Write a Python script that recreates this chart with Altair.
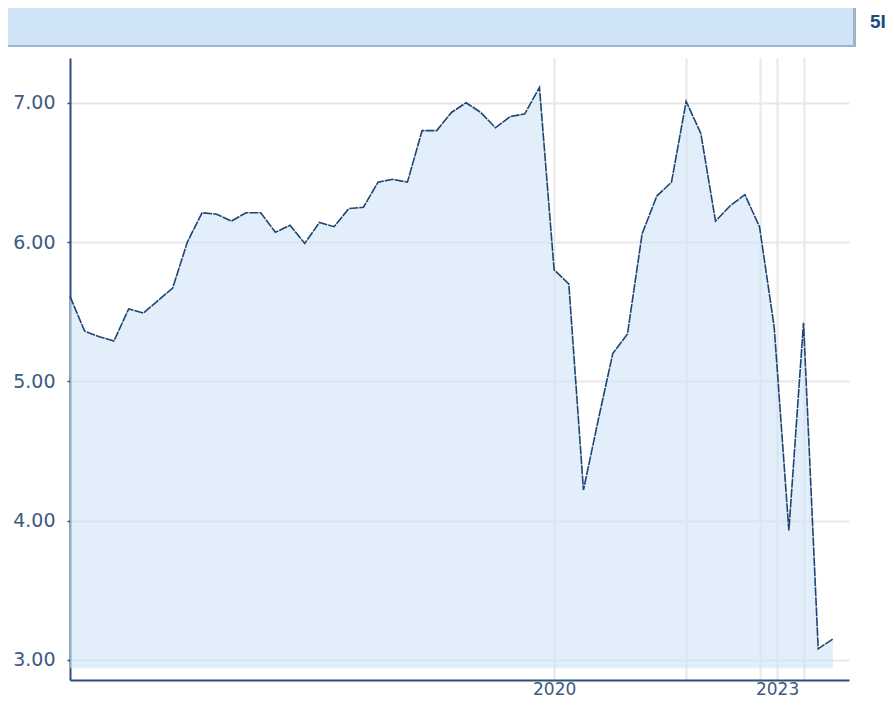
import altair as alt
import pandas as pd

# observation index (x position) and value
period = [0, 1, 2, 3, 4, 5, 6, 7, 8, 9, 10, 11, 12, 13, 14, 15, 16, 17, 18, 19,
          20, 21, 22, 23, 24, 25, 26, 27, 28, 29, 30, 31, 32, 33, 34, 35, 36, 37,
          38, 39, 40, 41, 42, 43, 44, 45, 46, 47, 48, 49, 50, 51, 52]
values = [5.61, 5.36, 5.32, 5.29, 5.52, 5.49, 5.58, 5.67, 6.00, 6.21,
          6.20, 6.15, 6.21, 6.21, 6.07, 6.12, 5.99, 6.14, 6.11, 6.24,
          6.25, 6.43, 6.45, 6.43, 6.80, 6.80, 6.93, 7.00, 6.93, 6.82,
          6.90, 6.92, 7.11, 5.80, 5.70, 4.22, 4.72, 5.20, 5.34, 6.06,
          6.33, 6.43, 7.01, 6.78, 6.15, 6.26, 6.34, 6.11, 5.39, 3.93,
          5.42, 3.08, 3.15]

x_grid = [33, 42, 47, 48.2, 50]
x_label_map = {33: "2020", 48.2: "2023"}
y_ticks = [3, 4, 5, 6, 7]
area_base = 2.94
button_text = "5I"

df = pd.DataFrame({"t": period, "v": values})

W, H = 779, 622
LINE = "#1e4470"
AXIS = "#2b4f7a"
LABEL = "#3d5a80"
GRID = "#e8e8e8"

label_expr = " : ".join(
    [f"datum.value == {k} ? '{v}'" for k, v in x_label_map.items()]
) + " : ''"

x_enc = alt.X(
    "t:Q",
    scale=alt.Scale(domain=[0, 53.1], nice=False, zero=False),
    axis=alt.Axis(
        values=x_grid, labelExpr=label_expr, ticks=False, grid=True,
        title=None, labelPadding=1, labelOverlap=False, labelFlush=False,
        labelFontSize=17,
    ),
)
y_enc = alt.Y(
    "v:Q",
    scale=alt.Scale(domain=[2.856, 7.321], nice=False, zero=False),
    axis=alt.Axis(
        values=y_ticks, format=".2f", tickSize=3, labelPadding=12,
        grid=True, title=None,
    ),
)

base = alt.Chart(df)

area = base.mark_area(color="#cfe4f7", opacity=0.6).encode(
    x=x_enc, y=y_enc, y2=alt.datum(area_base)
)
line = base.mark_line(color=LINE, strokeWidth=1.6, strokeDash=[9, 1]).encode(
    x="t:Q", y="v:Q"
)

header_border = base.mark_rect(color="#9fb3c8").encode(
    x=alt.value(-62), x2=alt.value(786), y=alt.value(-50), y2=alt.value(-11)
)
header_fill = base.mark_rect(color="#cfe4f7").encode(
    x=alt.value(-62), x2=alt.value(783), y=alt.value(-50), y2=alt.value(-13)
)
button = alt.Chart(pd.DataFrame({"label": [button_text]})).mark_text(
    align="left", baseline="alphabetic", fontSize=19, fontWeight="bold",
    font="Liberation Sans Narrow, Liberation Sans, Arial", color="#1b4a7a",
).encode(x=alt.value(800), y=alt.value(-30), text="label:N")

chart = alt.layer(header_border, header_fill, area, line, button).properties(
    width=W, height=H,
    autosize=alt.AutoSizeParams(type="none"),
    padding={"left": 62, "top": 50, "right": 37, "bottom": 18},
).configure_view(stroke=None).configure_axis(
    domainColor=AXIS, domainWidth=2, tickColor=AXIS, tickWidth=1.5,
    gridColor=GRID, gridWidth=2,
    labelColor=LABEL, labelFont="DejaVu Sans", labelFontSize=19,
)

chart.save("out.html", embed_options={"renderer": "svg", "actions": False})
